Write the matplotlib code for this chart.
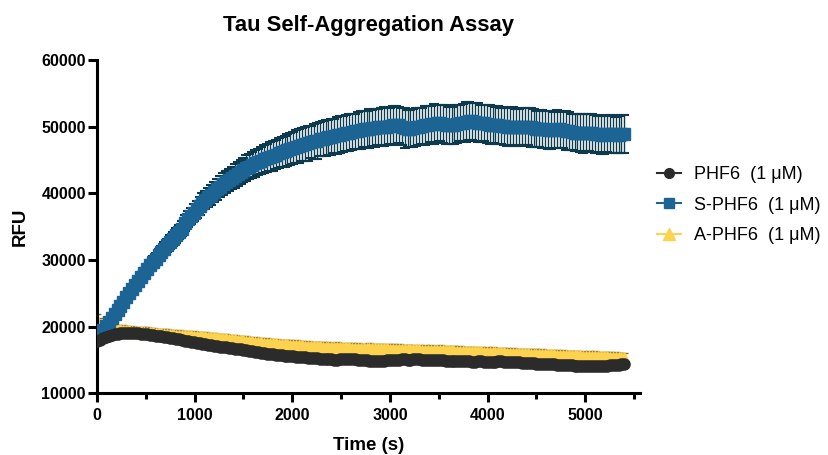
import matplotlib
matplotlib.use("Agg")
import matplotlib.pyplot as plt
import numpy as np

plt.rcParams['font.family'] = ['Liberation Sans', 'DejaVu Sans']

# time points (s), every 30 s from 0 to 5400
time_s = list(range(0, 5401, 30))

s_phf6 = [
    18500, 19000, 19500, 20100, 20700, 21300, 21900, 22500, 23100, 23700,
    24400, 25000, 25600, 26200, 26800, 27400, 28000, 28600, 29200, 29700,
    30200, 30700, 31200, 31700, 32200, 32700, 33200, 33700, 34200, 34700,
    35600, 36100, 36600, 37100, 37600, 38100, 38600, 39000, 39400, 39800,
    40200, 40600, 41000, 41400, 41700, 42000, 42300, 42600, 42900, 43200,
    43500, 43800, 44000, 44300, 44500, 44700, 44900, 45100, 45300, 45500,
    45600, 45800, 46000, 46200, 46300, 46500, 46700, 46800, 47000, 47100,
    47300, 47400, 47500, 47700, 47800, 47900, 48100, 48200, 48300, 48400,
    48500, 48600, 48700, 48800, 48900, 49000, 49100, 49200, 49300, 49400,
    49500, 49600, 49600, 49700, 49800, 49800, 49900, 49900, 50000, 50000,
    50100, 50200, 50300, 50200, 50000, 49800, 49700, 49700, 49800, 49900,
    50000, 50100, 50200, 50300, 50400, 50400, 50500, 50500, 50400, 50300,
    50200, 50200, 50300, 50400, 50500, 50600, 50700, 50800, 50800, 50700,
    50600, 50500, 50500, 50400, 50300, 50300, 50200, 50200, 50100, 50100,
    50000, 50000, 50000, 49900, 49900, 49900, 50000, 50000, 49900, 49800,
    49700, 49700, 49600, 49600, 49500, 49500, 49500, 49600, 49600, 49500,
    49400, 49300, 49200, 49100, 49100, 49000, 49000, 49100, 49100, 49000,
    48900, 48900, 48800, 48800, 48900, 48900, 48900, 48800, 48800, 48900,
    48900,
]
s_phf6_err = [
    300, 350, 400, 400, 450, 500, 500, 550, 600, 600,
    650, 650, 700, 700, 750, 750, 800, 800, 850, 850,
    900, 900, 950, 950, 1000, 1000, 1050, 1100, 1100, 1150,
    1200, 1200, 1250, 1300, 1300, 1350, 1400, 1400, 1450, 1500,
    1500, 1550, 1600, 1600, 1650, 1700, 1700, 1750, 1800, 1800,
    1850, 1900, 1900, 1950, 2000, 2000, 2050, 2100, 2100, 2150,
    2200, 2200, 2250, 2300, 2300, 2350, 2400, 2400, 2450, 2500,
    2500, 2550, 2600, 2450, 2600, 2700, 2550, 2600, 2700, 2650,
    2700, 2600, 2750, 2800, 2650, 2700, 2800, 2750, 2650, 2800,
    2850, 2700, 2800, 2900, 2750, 2800, 2700, 2850, 2900, 2800,
    2750, 2900, 2850, 2700, 2800, 2950, 2800, 2750, 2900, 2850,
    2800, 2700, 2900, 2850, 2750, 2950, 2800, 2700, 2850, 2900,
    2800, 2750, 2900, 2850, 2700, 2800, 2950, 2850, 2750, 2800,
    2900, 2800, 2700, 2850, 2900, 2750, 2800, 2850, 2700, 2800,
    2850, 2750, 2900, 2800, 2700, 2850, 2800, 2750, 2900, 2850,
    2700, 2800, 2850, 2750, 2900, 2800, 2700, 2850, 2800, 2750,
    2900, 2850, 2700, 2800, 2750, 2850, 2900, 2800, 2750, 2850,
    2800, 2700, 2850, 2900, 2750, 2800, 2850, 2700, 2800, 2900,
    2850,
]

phf6 = [
    17800, 18000, 18200, 18400, 18600, 18750, 18850, 18950, 19000, 19050,
    19100, 19100, 19100, 19050, 19000, 18950, 18900, 18850, 18800, 18750,
    18650, 18600, 18500, 18450, 18350, 18300, 18200, 18100, 18050, 17950,
    17850, 17800, 17700, 17600, 17500, 17450, 17350, 17300, 17200, 17150,
    17100, 17000, 16950, 16900, 16850, 16800, 16700, 16650, 16600, 16550,
    16450, 16400, 16300, 16250, 16150, 16100, 16000, 15950, 15900, 15850,
    15800, 15750, 15700, 15650, 15600, 15550, 15550, 15500, 15450, 15400,
    15400, 15350, 15300, 15250, 15250, 15200, 15150, 15100, 15100, 15100,
    15050, 15000, 15000, 15050, 15100, 15150, 15150, 15100, 15050, 15000,
    14950, 14900, 14900, 14850, 14850, 14800, 14800, 14800, 14850, 14900,
    14950, 14950, 15000, 15000, 15050, 15050, 15000, 15000, 15050, 15050,
    15050, 15000, 14950, 14950, 14900, 14900, 14950, 14950, 14900, 14850,
    14850, 14800, 14800, 14850, 14850, 14800, 14750, 14750, 14700, 14700,
    14750, 14750, 14700, 14700, 14650, 14700, 14700, 14750, 14750, 14700,
    14700, 14650, 14650, 14600, 14600, 14550, 14500, 14500, 14450, 14450,
    14400, 14400, 14350, 14350, 14350, 14300, 14300, 14250, 14250, 14200,
    14200, 14150, 14150, 14100, 14100, 14050, 14050, 14050, 14100, 14100,
    14100, 14050, 14050, 14100, 14100, 14150, 14200, 14200, 14250, 14300,
    14350,
]

a_phf6 = [
    20800, 20300, 19900, 19700, 19600, 19600, 19550, 19500, 19450, 19400,
    19350, 19300, 19250, 19200, 19200, 19150, 19100, 19100, 19050, 19000,
    18950, 18900, 18850, 18800, 18800, 18750, 18700, 18650, 18650, 18600,
    18550, 18550, 18500, 18450, 18450, 18400, 18350, 18350, 18300, 18250,
    18250, 18200, 18150, 18100, 18050, 18000, 17950, 17900, 17850, 17800,
    17750, 17700, 17650, 17600, 17550, 17500, 17450, 17400, 17400, 17350,
    17300, 17300, 17250, 17200, 17200, 17150, 17100, 17100, 17050, 17000,
    17000, 16950, 16950, 16900, 16900, 16850, 16850, 16800, 16800, 16800,
    16750, 16750, 16750, 16700, 16700, 16700, 16700, 16650, 16650, 16650,
    16650, 16600, 16600, 16600, 16600, 16600, 16550, 16550, 16550, 16550,
    16500, 16500, 16500, 16450, 16450, 16450, 16450, 16400, 16400, 16400,
    16400, 16350, 16350, 16350, 16300, 16300, 16300, 16300, 16250, 16250,
    16250, 16250, 16200, 16200, 16200, 16150, 16150, 16150, 16100, 16100,
    16100, 16100, 16050, 16050, 16000, 16000, 16000, 15950, 15950, 15950,
    15900, 15900, 15900, 15850, 15850, 15800, 15800, 15800, 15750, 15750,
    15750, 15700, 15700, 15700, 15650, 15650, 15650, 15600, 15600, 15600,
    15550, 15550, 15550, 15500, 15500, 15500, 15450, 15450, 15450, 15400,
    15400, 15400, 15350, 15350, 15350, 15300, 15300, 15300, 15250, 15250,
    15200,
]
a_phf6_err = [
    1100, 1050, 650, 800, 700, 850, 750, 800, 700, 850,
    800, 700, 850, 750, 800, 700, 850, 800, 700, 850,
    750, 800, 700, 850, 800, 700, 850, 750, 800, 700,
    850, 800, 700, 850, 750, 800, 700, 850, 800, 700,
    850, 750, 800, 700, 850, 800, 700, 850, 750, 800,
    700, 850, 800, 700, 850, 750, 800, 700, 850, 800,
    700, 850, 750, 800, 700, 850, 800, 700, 850, 750,
    800, 700, 850, 800, 700, 850, 750, 800, 700, 850,
    800, 700, 850, 750, 800, 700, 850, 800, 700, 850,
    750, 800, 700, 850, 800, 700, 850, 750, 800, 700,
    850, 800, 700, 850, 750, 800, 700, 850, 800, 700,
    850, 750, 800, 700, 850, 800, 700, 850, 750, 800,
    700, 850, 800, 700, 850, 750, 800, 700, 850, 800,
    700, 850, 750, 800, 700, 850, 800, 700, 850, 750,
    800, 700, 850, 800, 700, 850, 750, 800, 700, 850,
    800, 700, 850, 750, 800, 700, 850, 800, 700, 850,
    750, 800, 700, 850, 800, 700, 850, 750, 800, 700,
    850, 800, 700, 850, 750, 800, 700, 850, 800, 700,
    800,
]

labels = ["PHF6  (1 \u03bcM)", "S-PHF6  (1 \u03bcM)", "A-PHF6  (1 \u03bcM)"]
title = "Tau Self-Aggregation Assay"
xticks = [0, 1000, 2000, 3000, 4000, 5000]
yticks = [10000, 20000, 30000, 40000, 50000, 60000]

dark = "#2b2b2b"
blue = "#1c6494"
blue_err = "#0d3a4c"
yellow = "#fdd24f"
yellow_err = "#8c6d1f"

fig = plt.figure(figsize=(8.29, 4.55), dpi=100)
ax = fig.add_axes([0.117, 0.136, 0.655, 0.732])

t = np.array(time_s)

ax.errorbar(t, a_phf6, yerr=a_phf6_err, fmt='^', color=yellow, ms=9,
            mec=yellow, ecolor=yellow_err, elinewidth=0.9, capsize=3,
            capthick=1.0, zorder=2)
ax.plot(t, a_phf6, '-', color=yellow, lw=1.5, zorder=2)

ax.errorbar(t, s_phf6, yerr=s_phf6_err, fmt='s', color=blue, ms=8,
            mec=blue, ecolor=blue_err, elinewidth=1.0, capsize=3.5,
            capthick=1.5, zorder=3)
ax.plot(t, s_phf6, '-', color=blue, lw=1.5, zorder=3)

ax.plot(t, phf6, '-o', color=dark, ms=8, mec=dark, lw=1.5, zorder=4)

# legend handles
h1, = ax.plot([], [], '-o', color=dark, ms=7, lw=1.5)
h2, = ax.plot([], [], '-s', color=blue, ms=7, lw=1.5)
h3, = ax.plot([], [], '-^', color=yellow, ms=8, lw=1.5)
fig.legend([h1, h2, h3], labels, loc='center left',
           bbox_to_anchor=(0.773, 0.549), frameon=False, fontsize=13,
           handlelength=1.35, labelspacing=0.74, handletextpad=0.7,
           borderpad=0.4)

ax.set_xlim(0, 5560)
ax.set_ylim(10000, 60000)
ax.set_xticks(xticks)
ax.set_xticks([500, 1500, 2500, 3500, 4500, 5500], minor=True)
ax.set_yticks(yticks)

for s in ['top', 'right']:
    ax.spines[s].set_visible(False)
for s in ['left', 'bottom']:
    ax.spines[s].set_linewidth(2.2)

ax.tick_params(axis='both', which='major', length=6.5, width=2.2,
               labelsize=11.5, direction='out')
ax.tick_params(axis='x', which='major', pad=4.5)
ax.tick_params(axis='y', which='major', pad=1.5)
ax.tick_params(axis='x', which='minor', length=4.3, width=2.2)
for lab in ax.get_xticklabels() + ax.get_yticklabels():
    lab.set_fontweight('bold')

ax.set_xlabel("Time (s)", fontsize=13.5, fontweight='bold', labelpad=10)
ax.set_ylabel("RFU", fontsize=13.5, fontweight='bold', labelpad=9)
ax.set_title(title, fontsize=15.8, fontweight='bold', pad=21)

fig.savefig("out.png", dpi=100)
